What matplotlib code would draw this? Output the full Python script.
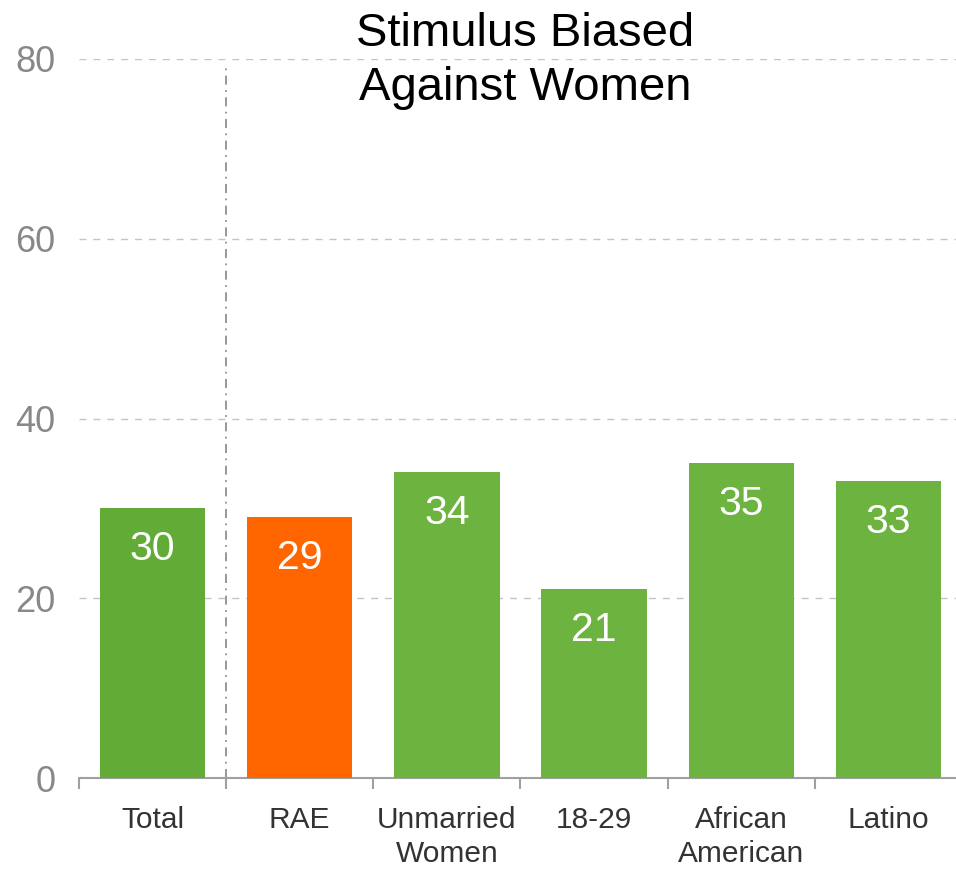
import matplotlib.pyplot as plt

plt.rcParams['font.family'] = ['Liberation Sans', 'DejaVu Sans']

categories = ["Total", "RAE", "Unmarried\nWomen", "18-29", "African\nAmerican", "Latino"]
values = [30, 29, 34, 21, 35, 33]
colors = ["#63AB37", "#FF6600", "#6CB33F", "#6CB33F", "#6CB33F", "#6CB33F"]
yticks = [0, 20, 40, 60, 80]

fig = plt.figure(figsize=(9.56, 8.69), dpi=100)
ax = fig.add_axes([79 / 956, 91 / 869, 883 / 956, 719 / 869])

x = range(len(categories))
bars = ax.bar(x, values, width=0.715, color=colors, zorder=3)

for rect, v in zip(bars, values):
    ax.annotate(
        str(v),
        (rect.get_x() + rect.get_width() / 2, v),
        xytext=(0, -29),
        textcoords="offset points",
        ha="center",
        va="center",
        color="white",
        fontsize=29.5,
        zorder=4,
    )

ax.set_xlim(-0.5, 5.5)
ax.set_ylim(0, 80)

ax.set_yticks(yticks)
ax.tick_params(axis="y", length=0, pad=17, labelsize=26, labelcolor="#888888")
ax.yaxis.grid(True, linestyle=(0, (5, 5)), color="#C4C4C4", linewidth=1, zorder=0)

ax.set_xticks(list(x))
ax.set_xticklabels(categories, fontsize=21.5, color="#333333", linespacing=1.3)
ax.set_xticks([i - 0.5 for i in range(len(categories) + 1)], minor=True)
ax.tick_params(axis="x", which="major", length=0, pad=20)
ax.tick_params(axis="x", which="minor", length=8, width=1.5, color="#A0A0A0")

for side in ["top", "right", "left"]:
    ax.spines[side].set_visible(False)
ax.spines["bottom"].set_color("#A0A0A0")
ax.spines["bottom"].set_linewidth(1.5)

ax.axvline(0.5, ymin=0, ymax=0.995, color="#909090", linewidth=1.3,
           linestyle=(0, (5, 3, 1, 3)), zorder=2)

fig.text(525 / 956, 1 - 12 / 869, "Stimulus Biased\nAgainst Women",
         ha="center", va="top", fontsize=34, linespacing=1.3)

fig.savefig("out.png", dpi=100)
